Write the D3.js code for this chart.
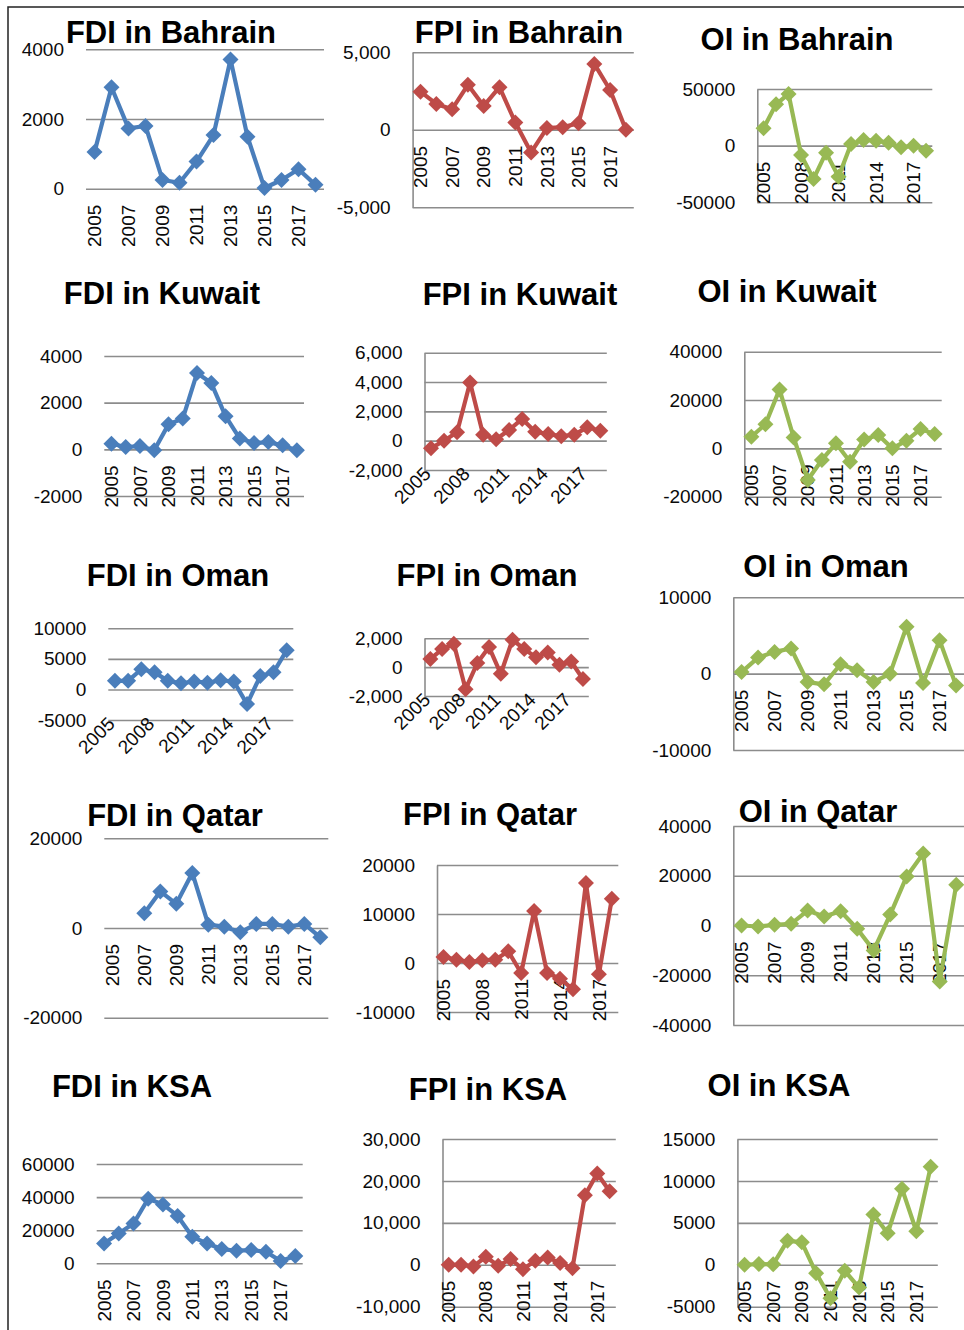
<!DOCTYPE html>
<html lang="en">
<head>
<meta charset="UTF-8">
<title>FDI, FPI and OI in the GCC</title>
<script src="https://d3js.org/d3.v7.min.js"></script>
<style>
  body {margin:0; background:#fff;}
  svg {display:block; font-family:"Liberation Sans", Arial, sans-serif;}
  .panel text {font-size:19px; fill:#0a0a0a;}
  .panel .title {font-size:31px; font-weight:bold; fill:#000;}
  .yaxis line, .yaxis path.domain {stroke:#8c8c8c; stroke-width:1.6;}
  .series {fill:none; stroke-width:4.2; stroke-linejoin:round;}
</style>
</head>
<body>
<div id="chart"></div>
<script>
// categories
var years = [2005, 2006, 2007, 2008, 2009, 2010, 2011, 2012, 2013, 2014, 2015, 2016, 2017, 2018];

// series values
var fdiBahrain = [1050, 2910, 1730, 1800, 250, 170, 780, 1540, 3710, 1490, 20, 250, 560, 110];
var fpiBahrain = [2460, 1670, 1330, 2900, 1540, 2750, 470, -1460, 110, 170, 430, 4250, 2570, 0];
var oiBahrain  = [15300, 36500, 45600, -8200, -29400, -6200, -27400, 1500, 5000, 4400, 2600, -1500, 0, -4400];

var fdiKuwait = [240, 100, 140, -40, 1070, 1320, 3270, 2840, 1420, 460, 270, 310, 170, -40];
var fpiKuwait = [-520, 0, 570, 3970, 410, 100, 730, 1480, 610, 450, 300, 410, 910, 680];
var oiKuwait  = [4800, 10000, 24400, 4500, -13100, -4800, 2100, -5500, 3700, 5500, 0, 3200, 8000, 5900];

var fdiOman = [1400, 1400, 3300, 2800, 1400, 1000, 1300, 1100, 1500, 1300, -2400, 2200, 2800, 6400];
var fpiOman = [560, 1250, 1620, -1530, 280, 1390, -460, 1900, 1250, 690, 1020, 160, 390, -830];
var oiOman  = [200, 2100, 2850, 3290, -1100, -1400, 1230, 440, -1100, 0, 6140, -1230, 4390, -1540];

var fdiQatar = [null, null, 3290, 8150, 5390, 12270, 750, 300, -970, 900, 900, 300, 900, -2090];
var fpiQatar = [1220, 680, 200, 540, 680, 2380, -2040, 10600, -2040, -3200, -5370, 16320, -2310, 13120];
var oiQatar  = [0, -400, 270, 670, 6000, 3600, 5730, -1330, -10000, 4400, 19730, 28930, -22500, 16400];

var fdiKsa = [12000, 18000, 24000, 39000, 35600, 28600, 16000, 12000, 8600, 7600, 8000, 7000, 1400, 4400];
var fpiKsa = [0, 0, -400, 1920, -240, 1360, -1040, 960, 1760, 400, -800, 16560, 21760, 17520];
var oiKsa  = [0, 80, 50, 2880, 2680, -1000, -4000, -720, -2720, 6000, 3760, 9080, 4000, 11680];

// tick values of each value axis
var ticksFdiBahrain = [0, 2000, 4000];
var ticksFpiBahrain = [-5000, 0, 5000];
var ticksOiBahrain  = [-50000, 0, 50000];
var ticksFdiKuwait  = [-2000, 0, 2000, 4000];
var ticksFpiKuwait  = [-2000, 0, 2000, 4000, 6000];
var ticksOiKuwait   = [-20000, 0, 20000, 40000];
var ticksFdiOman    = [-5000, 0, 5000, 10000];
var ticksFpiOman    = [-2000, 0, 2000];
var ticksOiOman     = [-10000, 0, 10000];
var ticksFdiQatar   = [-20000, 0, 20000];
var ticksFpiQatar   = [-10000, 0, 10000, 20000];
var ticksOiQatar    = [-40000, -20000, 0, 20000, 40000];
var ticksFdiKsa     = [0, 20000, 40000, 60000];
var ticksFpiKsa     = [-10000, 0, 10000, 20000, 30000];
var ticksOiKsa      = [-5000, 0, 5000, 10000, 15000];

var blue = "#4a7ebb", red = "#be4b48", green = "#98b954";

// layout: plot box in px (y0 = px of lowest tick, y1 = px of highest tick)
var panels = [
  {title:"FDI in Bahrain", v:fdiBahrain, t:ticksFdiBahrain, c:blue,  tx:171, ty:43,  x0:86,    x1:324,   y0:188.7,  y1:49.3,  ax:false, every:2, rot:-90, comma:false},
  {title:"FPI in Bahrain", v:fpiBahrain, t:ticksFpiBahrain, c:red,   tx:519, ty:43,  x0:412.6, x1:633.8, y0:207.3,  y1:52.3,  ax:true,  every:2, rot:-90, comma:true},
  {title:"OI in Bahrain",  v:oiBahrain,  t:ticksOiBahrain,  c:green, tx:797, ty:50,  x0:757.3, x1:932.3, y0:202.3,  y1:89,    ax:true,  every:3, rot:-90, comma:false},
  {title:"FDI in Kuwait",  v:fdiKuwait,  t:ticksFdiKuwait,  c:blue,  tx:162, ty:304, x0:104.3, x1:304,   y0:496,    y1:356,   ax:false, every:2, rot:-90, comma:false},
  {title:"FPI in Kuwait",  v:fpiKuwait,  t:ticksFpiKuwait,  c:red,   tx:520, ty:305, x0:424.5, x1:606.8, y0:470,    y1:352.7, ax:true,  every:3, rot:-45, comma:true},
  {title:"OI in Kuwait",   v:oiKuwait,   t:ticksOiKuwait,   c:green, tx:787, ty:302, x0:744.3, x1:941.7, y0:496.7,  y1:351.7, ax:true,  every:2, rot:-90, comma:false},
  {title:"FDI in Oman",    v:fdiOman,    t:ticksFdiOman,    c:blue,  tx:178, ty:586, x0:108.3, x1:293.3, y0:720,    y1:628.3, ax:false, every:3, rot:-45, comma:false},
  {title:"FPI in Oman",    v:fpiOman,    t:ticksFpiOman,    c:red,   tx:487, ty:586, x0:424.5, x1:588.8, y0:696,    y1:638.3, ax:true,  every:3, rot:-45, comma:true},
  {title:"OI in Oman",     v:oiOman,     t:ticksOiOman,     c:green, tx:826, ty:577, x0:733.3, x1:964.3, y0:750,    y1:597.3, ax:true,  every:2, rot:-90, comma:false},
  {title:"FDI in Qatar",   v:fdiQatar,   t:ticksFdiQatar,   c:blue,  tx:175, ty:826, x0:104.3, x1:328.3, y0:1017.7, y1:838.3, ax:false, every:2, rot:-90, comma:false},
  {title:"FPI in Qatar",   v:fpiQatar,   t:ticksFpiQatar,   c:red,   tx:490, ty:825, x0:437,   x1:618.3, y0:1012,   y1:865,   ax:true,  every:3, rot:-90, comma:false},
  {title:"OI in Qatar",    v:oiQatar,    t:ticksOiQatar,    c:green, tx:818, ty:822, x0:733.3, x1:964.5, y0:1025,   y1:826,   ax:true,  every:2, rot:-90, comma:false},
  {title:"FDI in KSA",     v:fdiKsa,     t:ticksFdiKsa,     c:blue,  tx:132, ty:1097, x0:96.7, x1:302.7, y0:1263.3, y1:1164,  ax:false, every:2, rot:-90, comma:false},
  {title:"FPI in KSA",     v:fpiKsa,     t:ticksFpiKsa,     c:red,   tx:488, ty:1100, x0:442.5, x1:615.8, y0:1306.7, y1:1139, ax:true,  every:3, rot:-90, comma:true},
  {title:"OI in KSA",      v:oiKsa,      t:ticksOiKsa,      c:green, tx:779, ty:1096, x0:737.4, x1:937.8, y0:1306.7, y1:1139, ax:true,  every:2, rot:-90, comma:false}
];

var svg = d3.select("#chart").append("svg")
    .attr("width", 964)
    .attr("height", 1330);

// page frame (top and left edges show)
svg.append("path")
    .attr("d", "M8,1330V7H964")
    .attr("fill", "none")
    .attr("stroke", "#222")
    .attr("stroke-width", 1.5);

var comma = d3.format(",");
var diamond = "M0,-8L8,0L0,8L-8,0Z";

panels.forEach(function(p) {
    var g = svg.append("g").attr("class", "panel");

    var x = d3.scaleBand().domain(years).range([p.x0, p.x1]);
    var y = d3.scaleLinear().domain(d3.extent(p.t)).range([p.y0, p.y1]);
    var cx = function(yr) { return x(yr) + x.bandwidth() / 2; };

    // value axis with gridlines
    var yAxis = d3.axisLeft(y)
        .tickValues(p.t)
        .tickSize(-(p.x1 - p.x0))
        .tickSizeOuter(0)
        .tickPadding(22)
        .tickFormat(function(d) { return p.comma ? comma(d).replace("\u2212", "-") : String(d); });

    var ya = g.append("g")
        .attr("class", "yaxis")
        .attr("transform", "translate(" + p.x0 + ",0)")
        .call(yAxis)
        .attr("font-size", null)
        .attr("font-family", null);
    if (!p.ax) ya.select(".domain").remove();

    // category labels
    var shown = years.filter(function(d, i) { return i % p.every == 0; });
    var xAxis = d3.axisBottom(x).tickValues(shown).tickSize(0).tickSizeOuter(0);
    var labelY = p.rot == -90 ? y(0) + 16 : y.range()[0] + 5;

    var xa = g.append("g")
        .attr("transform", "translate(" + (p.rot == -90 ? 0 : 1) + "," + labelY + ")")
        .call(xAxis)
        .attr("font-size", null)
        .attr("font-family", null);
    xa.select(".domain").remove();
    xa.selectAll("text")
        .attr("x", 0)
        .attr("y", 0)
        .attr("dy", p.rot == -90 ? "0.35em" : "0")
        .attr("transform", "rotate(" + p.rot + ")")
        .style("text-anchor", "end");

    // series
    var line = d3.line()
        .defined(function(d) { return d != null; })
        .x(function(d, i) { return cx(years[i]); })
        .y(function(d) { return y(d); });

    g.append("path")
        .datum(p.v)
        .attr("class", "series")
        .attr("stroke", p.c)
        .attr("d", line);

    g.selectAll("path.mark")
        .data(p.v.map(function(d, i) { return {yr: years[i], v: d}; }).filter(function(d) { return d.v != null; }))
        .enter().append("path")
        .attr("class", "mark")
        .attr("d", diamond)
        .attr("fill", p.c)
        .attr("transform", function(d) { return "translate(" + cx(d.yr) + "," + y(d.v) + ")"; });

    g.append("text")
        .attr("class", "title")
        .attr("x", p.tx)
        .attr("y", p.ty)
        .attr("text-anchor", "middle")
        .text(p.title);
});
</script>
</body>
</html>
